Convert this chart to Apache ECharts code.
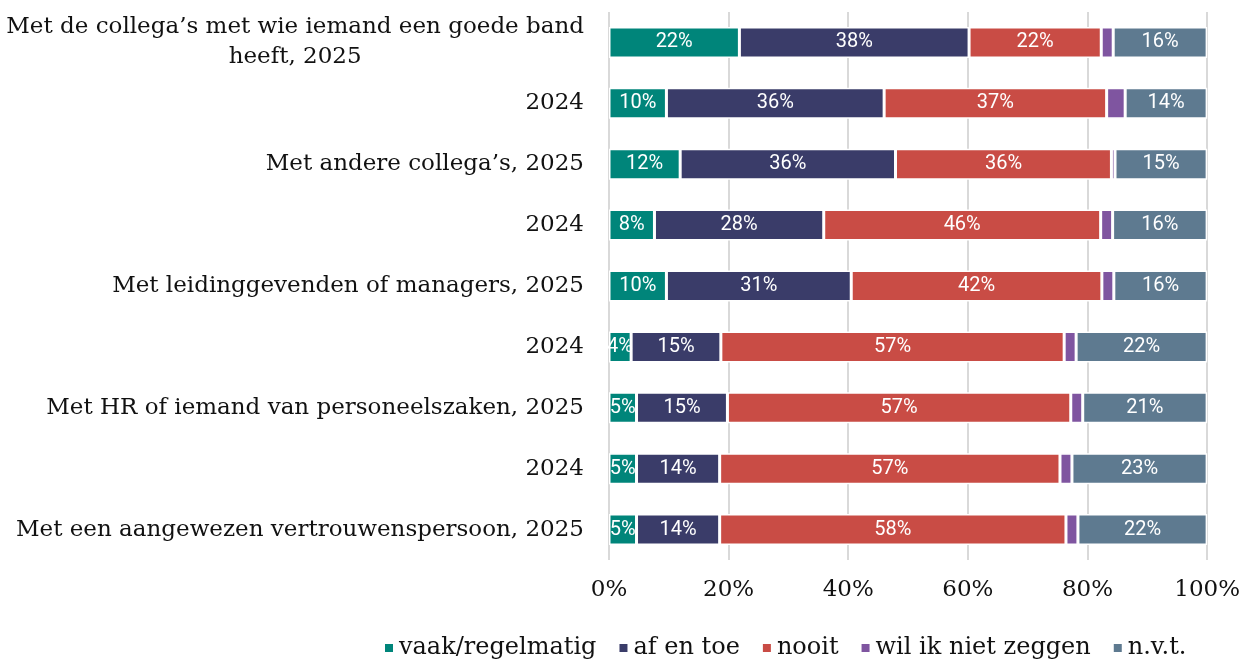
<!DOCTYPE html>
<html><head><meta charset="utf-8">
<script src="https://cdn.jsdelivr.net/npm/echarts@6/dist/echarts.min.js"></script>
<style>html,body{margin:0;padding:0;background:#fff}#c{width:1243px;height:662px}</style>
</head><body><div id="c"></div>
<script>
const categories = [
  "Met de collega’s met wie iemand een goede band\nheeft, 2025",
  "2024",
  "Met andere collega’s, 2025",
  "2024",
  "Met leidinggevenden of managers, 2025",
  "2024",
  "Met HR of iemand van personeelszaken, 2025",
  "2024",
  "Met een aangewezen vertrouwenspersoon, 2025"
];
const seriesNames = ["vaak/regelmatig", "af en toe", "nooit", "wil ik niet zeggen", "n.v.t."];
const vaak   = [21.8, 9.6, 11.9, 7.6, 9.6, 3.7, 4.6, 4.6, 4.6];
const afEnToe= [38.4, 36.4, 36.0, 28.3, 30.9, 15.0, 15.2, 13.9, 13.9];
const nooit  = [22.1, 37.2, 36.1, 46.3, 41.9, 57.4, 57.4, 56.9, 57.9];
const wilNiet= [2.0, 3.1, 0.6, 2.0, 2.0, 2.0, 2.0, 2.0, 2.0];
const nvt    = [15.7, 13.7, 15.4, 15.8, 15.6, 21.9, 20.8, 22.6, 21.6];
const xTicks = [0, 20, 40, 60, 80, 100];
const colors = ["#00857A", "#3A3C69", "#C94C45", "#7F55A0", "#5E7A90"];
const values = [vaak, afEnToe, nooit, wilNiet, nvt];

const serif = "DejaVu Serif";
const chart = echarts.init(document.getElementById('c'), null, {renderer:'canvas'});
chart.setOption({
  animation: false,
  backgroundColor: '#fff',
  grid: {left: 609, right: 35, top: 12, height: 548, containLabel: false},
  xAxis: {
    type: 'value', min: xTicks[0], max: xTicks[xTicks.length-1], interval: 20,
    axisLine: {show: false}, axisTick: {show: false},
    splitLine: {show: true, lineStyle: {color: '#d9d9d9', width: 2}},
    axisLabel: {formatter: '{value}%', fontFamily: serif, fontSize: 23, color: '#111', margin: 19}
  },
  yAxis: {
    type: 'category', inverse: true,
    data: categories.map((c, i) => String(i)),
    axisLine: {show: false}, axisTick: {show: false},
    axisLabel: {
      fontFamily: serif, fontSize: 23, color: '#111', margin: 25, lineHeight: 30,
      formatter: function (v) {
        const t = categories[+v];
        if (t.indexOf('\n') >= 0) return t.split('\n').map(s => '{c|' + s + '}').join('\n');
        return t;
      },
      rich: {c: {align: 'center', fontFamily: serif, fontSize: 23, color: '#111', lineHeight: 30}}
    }
  },
  legend: {
    left: 378, top: 631, icon: 'rect', itemWidth: 10, itemHeight: 10, itemGap: 21,
    textStyle: {fontFamily: serif, fontSize: 24, color: '#111'},
    data: seriesNames
  },
  series: seriesNames.map((n, k) => ({
    name: n, type: 'bar', stack: 'total', barWidth: 31,
    data: values[k],
    itemStyle: {color: colors[k], borderColor: '#fff', borderWidth: 1.5},
    label: {
      show: k !== 3, position: 'inside', color: '#fff', fontFamily: 'Roboto', fontSize: 20,
      formatter: p => Math.round(p.value) + '%'
    }
  }))
});
</script></body></html>
